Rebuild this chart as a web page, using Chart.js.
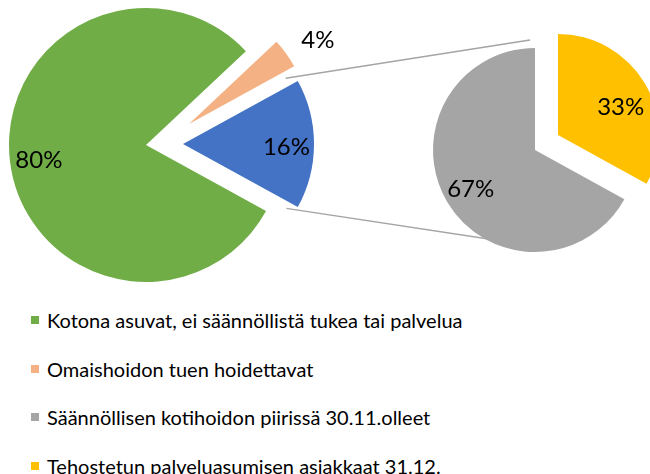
<!DOCTYPE html>
<html>
<head>
<meta charset="utf-8">
<script src="https://cdn.jsdelivr.net/npm/chart.js@4.4.0/dist/chart.umd.min.js"></script>
<style>
    body { margin: 0; background: #fff; font-family: Lato, sans-serif; }
    #area { position: relative; width: 650px; height: 474px; overflow: hidden; }
    #area canvas { position: absolute; left: 0; top: 0; }
    #legenda { position: absolute; left: 31px; top: 296px; }
    .item { height: 48.5px; display: flex; align-items: center; font-size: 20px; color: #000; white-space: nowrap; }
    .quadrado { width: 8px; height: 8px; margin-right: 8px; }
</style>
</head>
<body>
<div id="area">
    <canvas id="c1" width="650" height="290"></canvas>
    <canvas id="c2" width="650" height="290"></canvas>
    <canvas id="c3" width="650" height="290"></canvas>
    <canvas id="c4" width="650" height="290"></canvas>
    <canvas id="c5" width="650" height="290"></canvas>
    <div id="legenda"></div>
</div>
<script>
// pizza da esquerda (a fatia azul e o "resto", aberto na pizza da direita)
var rotulosEsq = ['Kotona asuvat, ei säännöllistä tukea tai palvelua', 'Omaishoidon tuen hoidettavat', 'Muut'];
var valoresEsq = [80, 4, 16];
var coresEsq = ['#70AD47', '#F4B183', '#4472C4'];

// pizza da direita
var rotulosDir = ['Säännöllisen kotihoidon piirissä 30.11.olleet', 'Tehostetun palveluasumisen asiakkaat 31.12.'];
var valoresDir = [67, 33];
var coresDir = ['#A5A5A5', '#FFC000'];

// cada camada desenha so uma parte das fatias (fatias destacadas ficam em camada propria)
var camadas = [
    { id: 'c1', lado: 'esq', cx: 146, cy: 145, r: 137, fatia: 0 },
    { id: 'c2', lado: 'esq', cx: 189, cy: 124, r: 120, fatia: 1 },
    { id: 'c3', lado: 'esq', cx: 183, cy: 144, r: 131, fatia: 2 },
    { id: 'c4', lado: 'dir', cx: 535, cy: 150, r: 102, fatia: 0 },
    { id: 'c5', lado: 'dir', cx: 558, cy: 135, r: 101, fatia: 1 }
];

// posicao dos rotulos de % : fracao do raio e ajuste de angulo (graus)
var posRotulosEsq = [{ f: 0.79, giro: -1 }, { f: 1.28, giro: 3 }, { f: 0.79, giro: 2 }];
var posRotulosDir = [{ f: 0.74, giro: -1 }, { f: 0.68, giro: 6.5 }];

var graficos = {};

function transparente(cores, indice) {
    return cores.map(function (c, i) { return i === indice ? c : 'rgba(0,0,0,0)'; });
}

var pluginRotulos = {
    id: 'rotulosPct',
    afterDatasetsDraw: function (chart) {
        var cfg = chart.$camada;
        var valores = cfg.lado === 'esq' ? valoresEsq : valoresDir;
        var pos = cfg.lado === 'esq' ? posRotulosEsq : posRotulosDir;
        var arco = chart.getDatasetMeta(0).data[cfg.fatia];
        var p = arco.getProps(['x', 'y', 'startAngle', 'endAngle', 'outerRadius'], true);
        var meio = (p.startAngle + p.endAngle) / 2 + pos[cfg.fatia].giro * Math.PI / 180;
        var d = p.outerRadius * pos[cfg.fatia].f;
        var ctx = chart.ctx;
        ctx.save();
        ctx.font = '24px Lato';
        ctx.fillStyle = '#000';
        ctx.textAlign = 'center';
        ctx.textBaseline = 'middle';
        ctx.fillText(valores[cfg.fatia] + '%', p.x + Math.cos(meio) * d, p.y + Math.sin(meio) * d);
        ctx.restore();
    }
};

// linhas que ligam a fatia azul a pizza da direita
var pluginLigacao = {
    id: 'ligacao',
    beforeDatasetsDraw: function (chart) {
        if (chart.$camada.id !== 'c4') return;
        var azul = graficos.c3.getDatasetMeta(0).data[2].getProps(['x', 'y', 'startAngle', 'endAngle', 'outerRadius'], true);
        var cinza = chart.getDatasetMeta(0).data[0].getProps(['x', 'y', 'outerRadius'], true);
        var g = Math.PI / 180;
        var a1 = azul.startAngle - 3.8 * g;
        var a2 = azul.endAngle + 3.1 * g;
        var ra = azul.outerRadius * 0.93;
        var t1 = -92.6 * g, t2 = 113 * g;
        var ctx = chart.ctx;
        ctx.save();
        ctx.strokeStyle = '#A5A5A5';
        ctx.lineWidth = 1.5;
        ctx.beginPath();
        ctx.moveTo(azul.x + Math.cos(a1) * ra, azul.y + Math.sin(a1) * ra);
        ctx.lineTo(cinza.x + Math.cos(t1) * cinza.outerRadius * 1.08, cinza.y + Math.sin(t1) * cinza.outerRadius * 1.08);
        ctx.moveTo(azul.x + Math.cos(a2) * ra, azul.y + Math.sin(a2) * ra);
        ctx.lineTo(cinza.x + Math.cos(t2) * cinza.outerRadius * 0.96, cinza.y + Math.sin(t2) * cinza.outerRadius * 0.96);
        ctx.stroke();
        ctx.restore();
    }
};

function criarCamada(cfg) {
    var esq = cfg.lado === 'esq';
    var valores = esq ? valoresEsq : valoresDir;
    var cores = esq ? coresEsq : coresDir;
    // esquerda: azul centrada em 0 graus; direita: amarela comeca no topo
    var rotacao = esq ? 90 + valores[2] * 3.6 / 2 : valores[1] * 3.6;
    var meia = Math.min(cfg.cx, 650 - cfg.cx, cfg.cy, 290 - cfg.cy);
    var ctx = document.getElementById(cfg.id).getContext('2d');
    var grafico = new Chart(ctx, {
        type: 'pie',
        data: {
            labels: esq ? rotulosEsq : rotulosDir,
            datasets: [{
                data: valores,
                backgroundColor: transparente(cores, cfg.fatia),
                borderWidth: 0,
                clip: false
            }]
        },
        options: {
            responsive: false,
            animation: false,
            events: [],
            rotation: rotacao,
            radius: cfg.r,
            layout: {
                padding: {
                    left: cfg.cx - meia,
                    right: 650 - cfg.cx - meia,
                    top: cfg.cy - meia,
                    bottom: 290 - cfg.cy - meia
                }
            },
            plugins: { legend: { display: false }, tooltip: { enabled: false } }
        },
        plugins: [
            { id: 'marca', beforeInit: function (c) { c.$camada = cfg; } },
            pluginLigacao,
            pluginRotulos
        ]
    });
    graficos[cfg.id] = grafico;
}

camadas.forEach(criarCamada);

// legenda (sem a fatia "Muut", como no original)
var itensLegenda = [
    [rotulosEsq[0], coresEsq[0]],
    [rotulosEsq[1], coresEsq[1]],
    [rotulosDir[0], coresDir[0]],
    [rotulosDir[1], coresDir[1]]
];
var legenda = document.getElementById('legenda');
itensLegenda.forEach(function (it) {
    var linha = document.createElement('div');
    linha.className = 'item';
    var q = document.createElement('span');
    q.className = 'quadrado';
    q.style.background = it[1];
    var t = document.createElement('span');
    t.textContent = it[0];
    linha.appendChild(q);
    linha.appendChild(t);
    legenda.appendChild(linha);
});
console.log('graficos prontos');
</script>
</body>
</html>
